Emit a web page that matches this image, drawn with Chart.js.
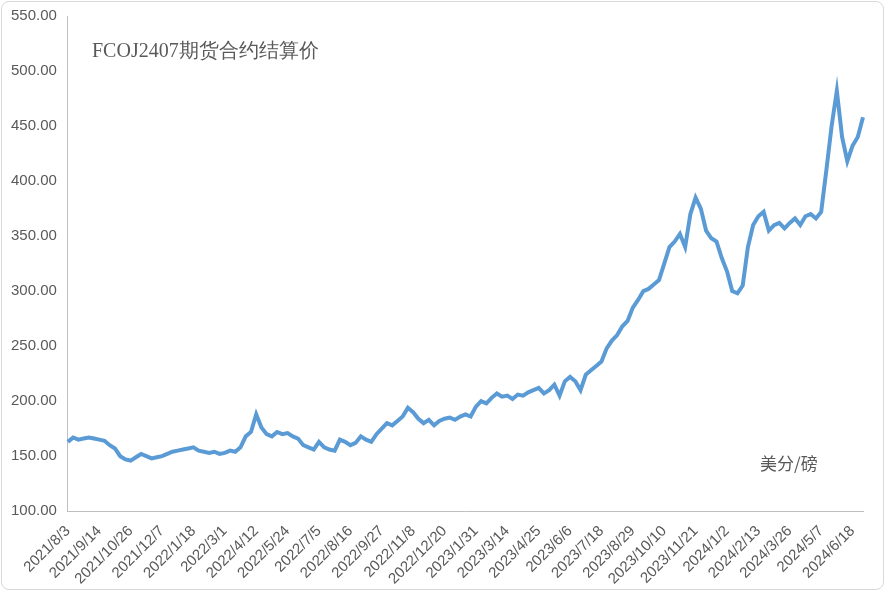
<!DOCTYPE html>
<html><head><meta charset="utf-8">
<script src="https://cdn.jsdelivr.net/npm/chart.js@4.4.1/dist/chart.umd.min.js"></script>
<style>
html,body{margin:0;padding:0;background:#fff;}
#wrap{position:absolute;left:1px;top:1px;width:883px;height:589px;border:1px solid #d9d9d9;border-radius:8px;box-sizing:border-box;}
</style></head><body>
<div id="wrap"><canvas id="c" width="883" height="589"></canvas></div>
<script>
const values = [
163,167,165,166,167,166,
165,164,160,157,150,147,
146,149,152,150,148,149,
150,152,154,155,156,157,
158,155,154,153,154,152,
153,155,154,158,168,172,
188,176,170,168,172,170,
171,168,166,160,158,156,
163,158,156,155,165,163,
160,162,168,165,163,170,
175,180,178,182,186,194,
190,184,180,183,178,182,
184,185,183,186,188,186,
195,200,198,203,207,204,
205,202,206,205,208,210,
212,207,210,215,205,218,
222,218,210,224,228,232,
236,248,255,260,268,273,
285,292,300,302,306,310,
325,340,345,352,340,370,
385,375,355,348,345,330,
318,300,298,305,340,360,
368,372,355,360,362,357,
362,366,360,368,370,366,
372,410,450,482,440,418,
432,440,458];
const tickLabels = ["2021/8/3","2021/9/14","2021/10/26","2021/12/7","2022/1/18","2022/3/1","2022/4/12","2022/5/24","2022/7/5","2022/8/16","2022/9/27","2022/11/8","2022/12/20","2023/1/31","2023/3/14","2023/4/25","2023/6/6","2023/7/18","2023/8/29","2023/10/10","2023/11/21","2024/1/2","2024/2/13","2024/3/26","2024/5/7","2024/6/18"];
const labels = values.map((v,i)=> i%6===0 ? tickLabels[i/6] : "");
const textPlugin = {id:'txt', afterDraw(ch){
  const c=ch.ctx; c.save();
  c.fillStyle='#595959'; c.font='20px "Liberation Serif", serif';
  c.fillText('FCOJ2407期货合约结算价', 90, 55);
  c.font='17px "Noto Sans CJK SC", sans-serif';
  c.fillText('美分/磅', 758, 468);
  c.restore();
}};
new Chart(document.getElementById('c'),{
  type:'line',
  data:{labels, datasets:[{data:values, borderColor:'#5b9bd5', borderWidth:4, pointRadius:0, tension:0, fill:false}]},
  options:{responsive:false, animation:false,
    layout:{padding:{left:6,right:22,top:14,bottom:0}},
    plugins:{legend:{display:false}, tooltip:{enabled:false}},
    scales:{
      x:{grid:{display:false}, border:{color:'#bfbfbf'},
        ticks:{autoSkip:false, maxRotation:45, minRotation:45, color:'#595959', font:{size:15, family:'"Liberation Sans", sans-serif'},
          callback:(v,i)=>labels[i]}},
      y:{min:100,max:550, grid:{display:false}, border:{color:'#bfbfbf'},
        ticks:{stepSize:50, color:'#595959', font:{size:15, family:'"Liberation Sans", sans-serif'}, callback:v=>v.toFixed(2)}}
    }}, plugins:[textPlugin]});
</script></body></html>
